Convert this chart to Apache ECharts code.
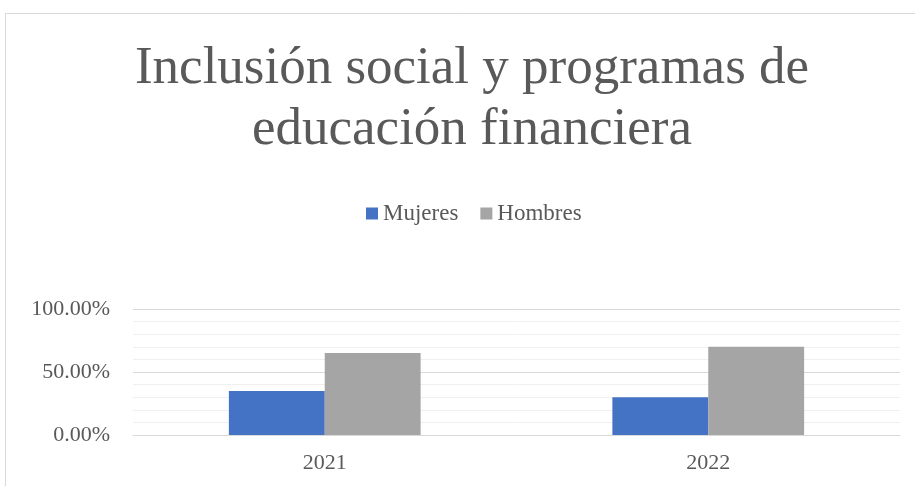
<!DOCTYPE html>
<html style="height: 100%">
   <head>
       <meta charset="utf-8">
   </head>
   <body style="height: 100%; margin: 0; background: #fff">
       <div id="container" style="width: 915px; height: 486px"></div>
       <script type="text/javascript" src="https://cdn.jsdelivr.net/npm/echarts@6/dist/echarts.min.js"></script>
       <script type="text/javascript">
var categories = ['2021', '2022'];
var mujeres = [35, 30];
var hombres = [65, 70];
var yTicks = [0, 50, 100];

var dom = document.getElementById("container");
var myChart = echarts.init(dom);
var serif = '"Liberation Serif", "Times New Roman", serif';

var option = {
    backgroundColor: 'white',
    animation: false,
    title: {
        text: 'Inclusión social y programas de\neducación financiera',
        left: 467,
        top: 34,
        textAlign: 'center',
        textStyle: {
            fontFamily: serif,
            fontSize: 53,
            fontWeight: 'normal',
            color: '#595959',
            lineHeight: 61
        }
    },
    legend: {
        top: 197,
        left: 361,
        itemWidth: 12,
        itemHeight: 12,
        itemGap: 22,
        icon: 'rect',
        textStyle: {fontFamily: serif, fontSize: 23, color: '#595959'},
        data: ['Mujeres', 'Hombres']
    },
    grid: {left: 133, right: 15, top: 309, bottom: 51},
    xAxis: {
        type: 'category',
        data: categories,
        axisTick: {show: false},
        axisLine: {lineStyle: {color: '#d9d9d9', width: 1}},
        axisLabel: {fontFamily: serif, fontSize: 22, color: '#595959', margin: 17}
    },
    yAxis: {
        type: 'value',
        min: yTicks[0],
        max: yTicks[yTicks.length - 1],
        interval: 50,
        axisLine: {show: false},
        axisTick: {show: false},
        axisLabel: {
            fontFamily: serif, fontSize: 22, color: '#595959', margin: 23,
            formatter: function (v) { return v.toFixed(2) + '%'; }
        },
        splitLine: {lineStyle: {color: '#d9d9d9', width: 1}},
        minorTick: {show: false, splitNumber: 5},
        minorSplitLine: {show: true, lineStyle: {color: '#f0f0f0', width: 1}}
    },
    series: [
        {
            name: 'Mujeres',
            type: 'bar',
            data: mujeres,
            barGap: '0%',
            barCategoryGap: '50%',
            itemStyle: {color: '#4472C4'}
        },
        {
            name: 'Hombres',
            type: 'bar',
            data: hombres,
            itemStyle: {color: '#A5A5A5'}
        }
    ],
    graphic: [{
        type: 'rect',
        shape: {x: 5.5, y: 13.5, width: 930, height: 500},
        style: {fill: null, stroke: '#d9d9d9', lineWidth: 1},
        silent: true
    }]
};
myChart.setOption(option, true);
       </script>
   </body>
</html>
